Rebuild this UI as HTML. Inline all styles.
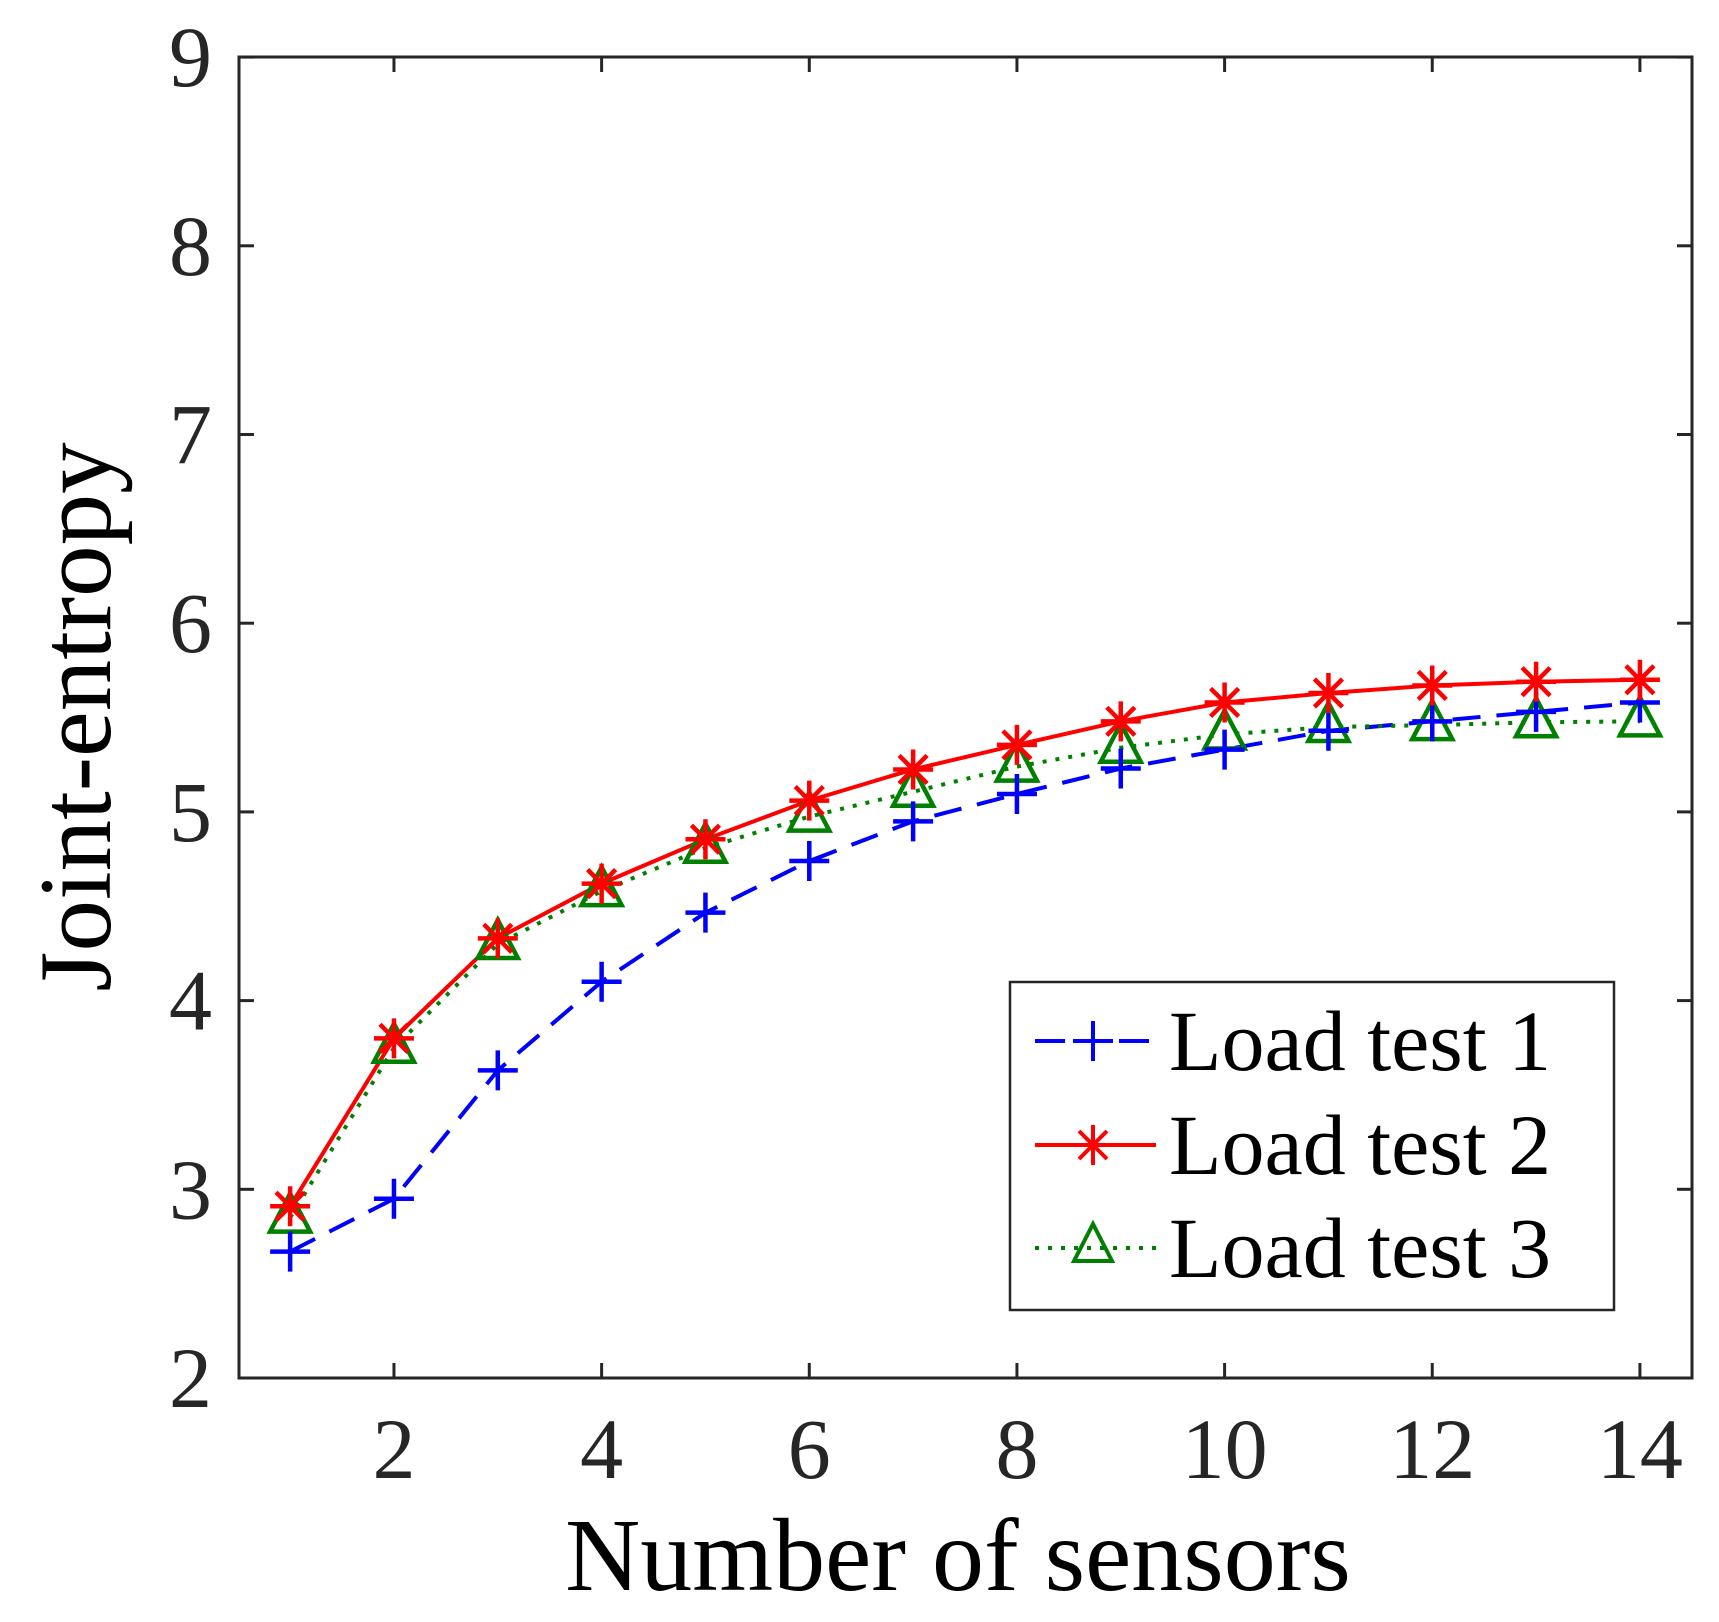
<!DOCTYPE html>
<html><head><meta charset="utf-8"><style>html,body{margin:0;padding:0;background:#fff}svg{display:block}text{font-family:"Liberation Serif","Times New Roman",serif}</style></head>
<body>
<svg width="1719" height="1622" viewBox="0 0 1719 1622" xmlns="http://www.w3.org/2000/svg">
<rect width="1719" height="1622" fill="#fff"/>
<g id="plot"></g>
<rect x="239" y="57" width="1453" height="1321" fill="none" stroke="#262626" stroke-width="3"/>
<g stroke="#262626" stroke-width="3" id="ticks"></g>
<g fill="#262626" font-size="86" id="labels"></g>
<text x="958" y="1590" font-size="104" text-anchor="middle" fill="#000">Number of sensors</text>
<text transform="translate(110,717) rotate(-90)" font-size="103" text-anchor="middle" fill="#000">Joint-entropy</text>
<rect x="1010" y="982" width="604" height="328" fill="#fff" stroke="#262626" stroke-width="2.5"/>
<g stroke-width="4" fill="none">
<line x1="1035" y1="1041" x2="1156" y2="1041" stroke="#0000ff" stroke-dasharray="30,12"/>
<path d="M1073 1041h40M1093 1021v40" stroke="#0000ff"/>
<line x1="1035" y1="1145" x2="1156" y2="1145" stroke="#ff0000"/>
<path d="M1073 1145h40M1093 1125v40M1079 1131l28 28M1079 1159l28 -28" stroke="#ff0000"/>
<line x1="1035" y1="1248" x2="1156" y2="1248" stroke="#008000" stroke-dasharray="4,9"/>
<path d="M1093 1224l-19 37h38z" stroke="#008000"/>
</g>
<g font-size="86" fill="#000">
<text x="1169" y="1070">Load test 1</text>
<text x="1169" y="1174">Load test 2</text>
<text x="1169" y="1277">Load test 3</text>
</g>
<script>
const X=n=>186.3+103.83*n, Y=v=>1378-(v-2)*188.7;
const t1=[2.67,2.95,3.63,4.10,4.466,4.74,4.95,5.095,5.23,5.33,5.43,5.48,5.53,5.58];
const t2=[2.91,3.80,4.33,4.62,4.855,5.06,5.225,5.355,5.48,5.58,5.63,5.67,5.69,5.70];
const t3=[2.85,3.75,4.30,4.58,4.81,4.975,5.107,5.24,5.34,5.41,5.45,5.46,5.475,5.48];
const ns="http://www.w3.org/2000/svg";
const g=document.getElementById('plot');
function el(t,a,p){const e=document.createElementNS(ns,t);for(const k in a)e.setAttribute(k,a[k]);(p||g).appendChild(e);return e;}
function pts(d){return d.map((v,i)=>X(i+1).toFixed(1)+','+Y(v).toFixed(1)).join(' ');}
el('polyline',{points:pts(t1),fill:'none',stroke:'#0000ff','stroke-width':4,'stroke-dasharray':'28,16'});
el('polyline',{points:pts(t3),fill:'none',stroke:'#008000','stroke-width':4,'stroke-dasharray':'4,9'});
el('polyline',{points:pts(t2),fill:'none',stroke:'#ff0000','stroke-width':4});
t3.forEach((v,i)=>{const x=X(i+1),y=Y(v);el('path',{d:`M${x} ${y-24}l-20 38h40z`,fill:'none',stroke:'#008000','stroke-width':4.5});});
t1.forEach((v,i)=>{const x=X(i+1),y=Y(v);el('path',{d:`M${x-20} ${y}h40M${x} ${y-20}v40`,stroke:'#0000ff','stroke-width':4.5});});
t2.forEach((v,i)=>{const x=X(i+1),y=Y(v);el('path',{d:`M${x-20} ${y}h40M${x} ${y-20}v40M${x-14} ${y-14}l28 28M${x-14} ${y+14}l28 -28`,stroke:'#ff0000','stroke-width':4.5});});
const tk=document.getElementById('ticks'),lb=document.getElementById('labels');
for(let n=2;n<=14;n+=2){const x=X(n);el('line',{x1:x,y1:1378,x2:x,y2:1363},tk);el('line',{x1:x,y1:57,x2:x,y2:72},tk);
 const t=el('text',{x:x,y:1478,'text-anchor':'middle'},lb);t.textContent=n;}
for(let v=2;v<=9;v++){const y=Y(v);el('line',{x1:239,y1:y,x2:254,y2:y},tk);el('line',{x1:1692,y1:y,x2:1677,y2:y},tk);
 const t=el('text',{x:212,y:y+29,'text-anchor':'end'},lb);t.textContent=v;}
</script>
</svg>
</body></html>
